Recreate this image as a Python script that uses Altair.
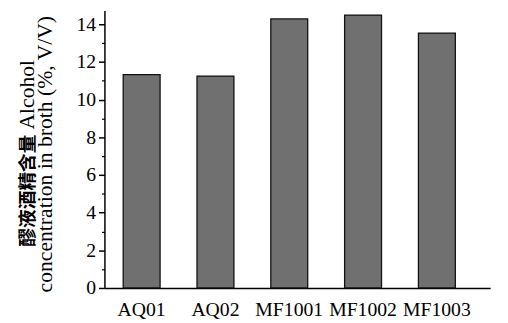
import altair as alt
import pandas as pd

strains = ["AQ01", "AQ02", "MF1001", "MF1002", "MF1003"]
alcohol = [11.32, 11.25, 14.28, 14.49, 13.53]
major_ticks = [0, 2, 4, 6, 8, 10, 12, 14]
minor_ticks = [1, 3, 5, 7, 9, 11, 13]
title_cn = "醪液酒精含量"
title_en1 = "Alcohol"
title_en2 = "concentration in broth (%, V/V)"

df = pd.DataFrame({"strain": strains, "alcohol": alcohol})

FONT = "Liberation Serif"
yscale = alt.Scale(domain=[0, 14.73], nice=False, zero=True)
xscale = alt.Scale(paddingInner=0.5, paddingOuter=0.363, align=0.35)

bars = alt.Chart(df).mark_bar(
    fill="#707070", stroke="#111111", strokeWidth=1.3
).encode(
    x=alt.X("strain:N", sort=strains, scale=xscale,
            axis=alt.Axis(title=None, labelAngle=0, ticks=False, domainColor="black",
                          domainWidth=1.5, labelFont=FONT, labelFontSize=20,
                          labelColor="black", labelPadding=12)),
    y=alt.Y("alcohol:Q", scale=yscale,
            axis=alt.Axis(values=major_ticks, title=None, grid=False,
                          domainColor="black", domainWidth=1.5, tickColor="black",
                          tickWidth=1.5, tickSize=6, labelFont=FONT, labelFontSize=20,
                          labelColor="black", labelPadding=3)),
)

minor = alt.Chart(df).mark_bar(opacity=0).encode(
    y=alt.Y("alcohol:Q", scale=yscale,
            axis=alt.Axis(orient="left", values=minor_ticks, title=None, labels=False,
                          domain=False, grid=False, tickColor="black", tickWidth=1.2,
                          tickSize=3)),
)

base_txt = alt.Chart(pd.DataFrame({"t": [0]}))
t_cn = base_txt.mark_text(angle=270, align="left", baseline="middle",
                          font="Noto Sans CJK SC", fontWeight="bold", fontSize=19,
                          color="black", text=title_cn).encode(
    x=alt.value(-78), y=alt.value(240))
t_en1 = base_txt.mark_text(angle=270, align="left", baseline="middle",
                           font=FONT, fontSize=22, color="black", text=title_en1).encode(
    x=alt.value(-79), y=alt.value(121))
t_en2 = base_txt.mark_text(angle=270, align="center", baseline="middle",
                           font=FONT, fontSize=22, color="black", text=title_en2).encode(
    x=alt.value(-60), y=alt.value(146))

chart = alt.layer(bars, minor, t_cn, t_en1, t_en2).resolve_axis(y="independent").properties(
    width=392, height=282,
    autosize=alt.AutoSizeParams(type="none"),
    padding={"left": 98, "top": 0, "right": 10, "bottom": 30},
).configure_view(stroke=None)

chart.save("out.html", embed_options={"renderer": "svg", "actions": False})
